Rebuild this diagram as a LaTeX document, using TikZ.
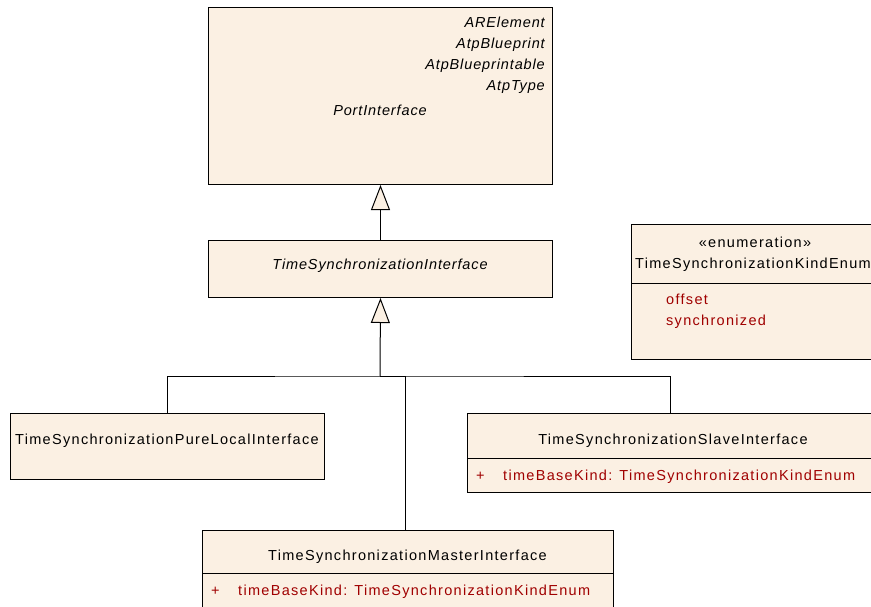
\documentclass[tikz,border=0pt]{standalone}
\usepackage{fontspec}
\setmainfont{Liberation Sans}[UprightFeatures={LetterSpace=9}, ItalicFeatures={LetterSpace=6}]
\usetikzlibrary{arrows.meta}
\definecolor{bg}{RGB}{251,240,227}
\definecolor{attr}{RGB}{160,0,0}
\tikzset{
  box/.style={draw=black, fill=bg, line width=1pt, inner sep=0pt, anchor=north west},
  txt/.style={inner sep=0pt, font=\fontsize{14.5pt}{17pt}\selectfont},
  itxt/.style={txt, font=\fontsize{14.5pt}{17pt}\selectfont\itshape},
  atxt/.style={txt, text=attr, anchor=base west},
  conn/.style={draw=black, line width=1pt},
  gen/.style={conn, -{Triangle[length=25pt,width=19pt,fill=bg]}},
}
\begin{document}
\begin{tikzpicture}[x=1pt,y=-1pt]
\path[use as bounding box, clip] (0,0) rectangle (871,606);
% boxes
\node[box, minimum width=344pt, minimum height=177pt] (port) at (208,7) {};
\node[box, minimum width=344pt, minimum height=57pt] (tsi) at (208,240) {};
\node[box, minimum width=250pt, minimum height=135pt] (enum) at (631,224) {};
\node[box, minimum width=314pt, minimum height=66pt] (pure) at (10,413) {};
\node[box, minimum width=406pt, minimum height=79pt] (slave) at (467,413) {};
\node[box, minimum width=411pt, minimum height=90pt] (master) at (202,530) {};
% dividers
\coordinate (enumdiv) at (631,283);
\coordinate (slavediv) at (467,458);
\coordinate (masterdiv) at (202,573);
\draw[conn] (enumdiv) -- (enumdiv -| enum.east);
\draw[conn] (slavediv) -- (slavediv -| slave.east);
\draw[conn] (masterdiv) -- (masterdiv -| master.east);
% texts top
\node[itxt, anchor=base east] (t1) at (545,27) {ARElement};
\node[itxt, anchor=base east] (t2) at (545,48) {AtpBlueprint};
\node[itxt, anchor=base east] (t3) at (545,69) {AtpBlueprintable};
\node[itxt, anchor=base east] (t4) at (545,90) {AtpType};
\node[itxt, anchor=base] (t5) at (380,115) {PortInterface};
\node[itxt, anchor=base] (t6) at (380,269) {TimeSynchronizationInterface};
% enum
\node[txt, anchor=base] (e1) at (755,247) {«enumeration»};
\node[txt, anchor=base] (e2) at (753,268) {TimeSynchronizationKindEnum};
\node[atxt] (e3) at (666,304) {offset};
\node[atxt] (e4) at (666,325) {synchronized};
% bottom
\node[txt, anchor=base] (p1) at (167,444) {TimeSynchronizationPureLocalInterface};
\node[txt, anchor=base] (s1) at (673,444) {TimeSynchronizationSlaveInterface};
\node[atxt] (s2) at (476,480) {+};
\node[atxt] (s3) at (503,480) {timeBaseKind: TimeSynchronizationKindEnum};
\node[txt, anchor=base] (m1) at (407.5,560) {TimeSynchronizationMasterInterface};
\node[atxt] (m2) at (211,595) {+};
\node[atxt] (m3) at (238,595) {timeBaseKind: TimeSynchronizationKindEnum};
% connectors
\coordinate (j) at (380,376);
\draw[gen] (tsi.north) -- (port.south);
\draw[conn] (pure.north) |- (j) -| (slave.north);
\draw[conn] ([xshift=-2.5pt]master.north) |- (j);
\draw[gen] (j) -- (tsi.south);
\end{tikzpicture}
\end{document}
